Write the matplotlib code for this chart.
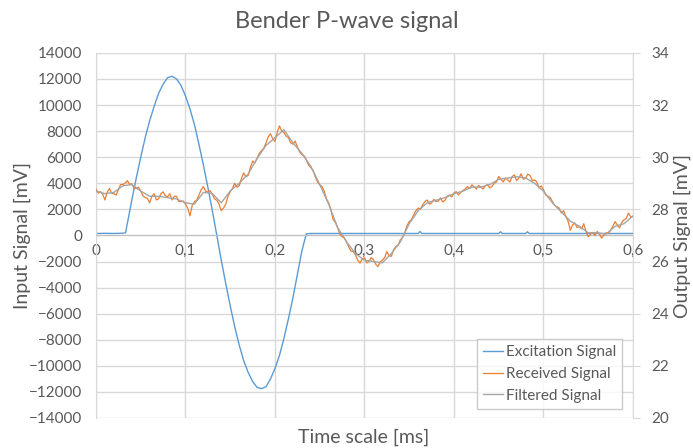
import matplotlib.pyplot as plt
from matplotlib.ticker import FuncFormatter, MultipleLocator

plt.rcParams['font.family'] = ['Lato', 'DejaVu Sans']

# excitation signal, left axis [mV]
t_exc = [0.0, 0.010, 0.020, 0.030, 0.033, 0.035, 0.040, 0.045, 0.050, 0.055, 0.060,
         0.065, 0.070, 0.075, 0.080, 0.085, 0.090, 0.095, 0.100, 0.105, 0.110,
         0.115, 0.120, 0.125, 0.130, 0.135, 0.140, 0.145, 0.150, 0.155, 0.160,
         0.165, 0.170, 0.175, 0.180, 0.185, 0.190, 0.195, 0.200, 0.205, 0.210,
         0.215, 0.220, 0.225, 0.230, 0.235, 0.240, 0.300, 0.360, 0.362, 0.364,
         0.450, 0.452, 0.454, 0.480, 0.482, 0.484, 0.600]
excitation = [150, 160, 150, 170, 200, 900, 2700, 4400, 6000, 7500, 8800,
              9900, 10900, 11600, 12100, 12200, 12000, 11500, 10700, 9700, 8500,
              7000, 5400, 3700, 1900, 0, -1900, -3700, -5400, -7000, -8400,
              -9600, -10500, -11200, -11650, -11750, -11600, -11000, -10200, -9200, -7900,
              -6400, -4800, -3000, -1200, 120, 150, 150, 150, 300, 150,
              150, 280, 150, 150, 280, 150, 150]

# received signal, right axis [mV], one sample every 0.0025 ms
t_rec = [i / 400 for i in range(241)]
received = [28.77, 28.62, 28.68, 28.58, 28.36, 28.66, 28.80, 28.62, 28.60, 28.55,
            28.75, 28.95, 28.95, 29.00, 29.10, 28.96, 28.98, 28.80, 28.80, 28.85,
            28.70, 28.52, 28.45, 28.42, 28.25, 28.50, 28.60, 28.36, 28.40, 28.60,
            28.67, 28.52, 28.48, 28.60, 28.36, 28.50, 28.50, 28.30, 28.30, 28.32,
            28.20, 28.05, 27.75, 28.15, 28.30, 28.35, 28.55, 28.75, 28.87, 28.70,
            28.67, 28.72, 28.58, 28.40, 28.35, 28.20, 27.95, 28.05, 28.20, 28.50,
            28.68, 28.80, 29.00, 28.85, 28.90, 29.18, 29.40, 29.25, 29.30, 29.60,
            29.85, 29.78, 29.95, 30.15, 30.25, 30.35, 30.55, 30.78, 30.90, 30.70,
            30.60, 30.95, 31.20, 31.00, 30.95, 30.80, 30.75, 30.55, 30.50, 30.62,
            30.40, 30.20, 30.10, 30.05, 29.90, 29.70, 29.60, 29.50, 29.25, 29.05,
            28.94, 28.88, 28.70, 28.40, 28.25, 27.98, 27.60, 27.50, 27.30, 27.05,
            26.95, 26.90, 26.75, 26.55, 26.40, 26.38, 26.25, 26.05, 25.94, 26.10,
            26.14, 25.95, 26.00, 26.15, 26.08, 25.90, 25.80, 25.98, 26.05, 26.15,
            26.38, 26.22, 26.20, 26.45, 26.57, 26.62, 26.83, 26.92, 27.10, 27.38,
            27.53, 27.60, 27.79, 27.95, 28.05, 28.00, 28.17, 28.30, 28.36, 28.20,
            28.25, 28.38, 28.30, 28.32, 28.44, 28.28, 28.35, 28.50, 28.55, 28.48,
            28.63, 28.68, 28.55, 28.65, 28.72, 28.78, 28.87, 28.80, 28.94, 28.86,
            28.78, 28.92, 28.85, 28.78, 28.90, 28.95, 28.82, 28.88, 29.00, 29.05,
            29.26, 29.15, 29.05, 29.20, 29.13, 29.05, 29.26, 29.32, 29.10, 29.20,
            29.36, 29.15, 29.20, 29.35, 29.30, 29.10, 29.13, 29.05, 28.82, 28.90,
            28.75, 28.55, 28.50, 28.45, 28.30, 28.15, 28.10, 28.05, 27.86, 27.95,
            27.72, 27.55, 27.20, 27.40, 27.48, 27.30, 27.34, 27.25, 27.45, 27.15,
            26.95, 27.05, 27.10, 27.00, 27.15, 27.05, 26.90, 27.02, 27.10, 27.08,
            27.20, 27.35, 27.53, 27.40, 27.29, 27.50, 27.60, 27.65, 27.86, 27.70,
            27.72]

# filtered signal, right axis [mV]
t_filt = [i / 100 for i in range(61)]
filtered = [28.70, 28.60, 28.65, 28.90, 28.95, 28.70, 28.50, 28.50, 28.45, 28.40,
            28.25, 28.20, 28.65, 28.60, 28.25, 28.70, 29.00, 29.35, 29.95, 30.45,
            30.75, 31.05, 30.55, 30.15, 29.65, 28.95, 28.20, 27.30, 26.75, 26.30,
            26.05, 26.00, 25.95, 26.30, 26.75, 27.45, 27.95, 28.25, 28.35, 28.45,
            28.60, 28.70, 28.85, 28.85, 28.95, 29.15, 29.20, 29.25, 29.20, 29.00,
            28.70, 28.25, 27.90, 27.55, 27.35, 27.10, 27.10, 27.05, 27.35, 27.45,
            27.75]

txt = '#595959'
grid = '#d9d9d9'

fig = plt.figure(figsize=(6.93, 4.48), dpi=100)
ax = fig.add_axes([0.1385, 0.067, 0.7749, 0.815])
ax2 = ax.twinx()

ax.plot(t_exc, excitation, color='#5b9bd5', lw=1.0, label='Excitation Signal')
l2, = ax2.plot(t_rec, received, color='#ed7d31', lw=0.9, label='Received Signal')
l3, = ax2.plot(t_filt, filtered, color='#a5a5a5', lw=1.0, label='Filtered Signal')

ax.set_xlim(0, 0.6)
ax.set_ylim(-14000, 14000)
ax2.set_ylim(20, 34)
ax.yaxis.set_major_locator(MultipleLocator(2000))
ax2.yaxis.set_major_locator(MultipleLocator(2))
ax.xaxis.set_major_locator(MultipleLocator(0.1))
ax.xaxis.set_major_formatter(FuncFormatter(
    lambda v, p: '0' if abs(v) < 1e-9 else ('%.1f' % v).replace('.', ',')))

ax.grid(True, color=grid, lw=1.0)
ax.set_axisbelow(True)
for s in ['top', 'right']:
    ax.spines[s].set_visible(False)
for s in ['top', 'bottom', 'left']:
    ax2.spines[s].set_visible(False)
ax.spines['bottom'].set_position(('data', 0))
ax.spines['bottom'].set_color('#bfbfbf')
ax.spines['left'].set_color('#d9d9d9')
ax2.spines['right'].set_color('#d9d9d9')

ax.tick_params(axis='x', length=0, pad=6, labelsize=11, labelcolor=txt)
ax.tick_params(axis='y', length=0, pad=10, labelsize=11, labelcolor=txt)
ax2.tick_params(axis='y', length=5, color='#d9d9d9', pad=8, labelsize=11, labelcolor=txt)

fig.text(0.5, 0.951, 'Bender P-wave signal', ha='center', va='center',
         fontsize=17, color=txt)
fig.text(0.032, 0.474, 'Input Signal [mV]', rotation=90, ha='center', va='center',
         fontsize=14, color=txt)
fig.text(0.984, 0.474, 'Output Signal [mV]', rotation=90, ha='center', va='center',
         fontsize=14, color=txt)
fig.text(0.525, 0.0245, 'Time scale [ms]', ha='center', va='center',
         fontsize=14, color=txt)

h1, lab1 = ax.get_legend_handles_labels()
leg = ax2.legend(h1 + [l2, l3], lab1 + ['Received Signal', 'Filtered Signal'],
                 loc='lower right', bbox_to_anchor=(0.98, 0.025), fancybox=False,
                 edgecolor='#bfbfbf', fontsize=11, handlelength=1.3,
                 handletextpad=0.2, labelspacing=0.5, borderaxespad=0)
for t in leg.get_texts():
    t.set_color(txt)
leg.get_frame().set_linewidth(1.0)

fig.savefig('out.png', dpi=100)
